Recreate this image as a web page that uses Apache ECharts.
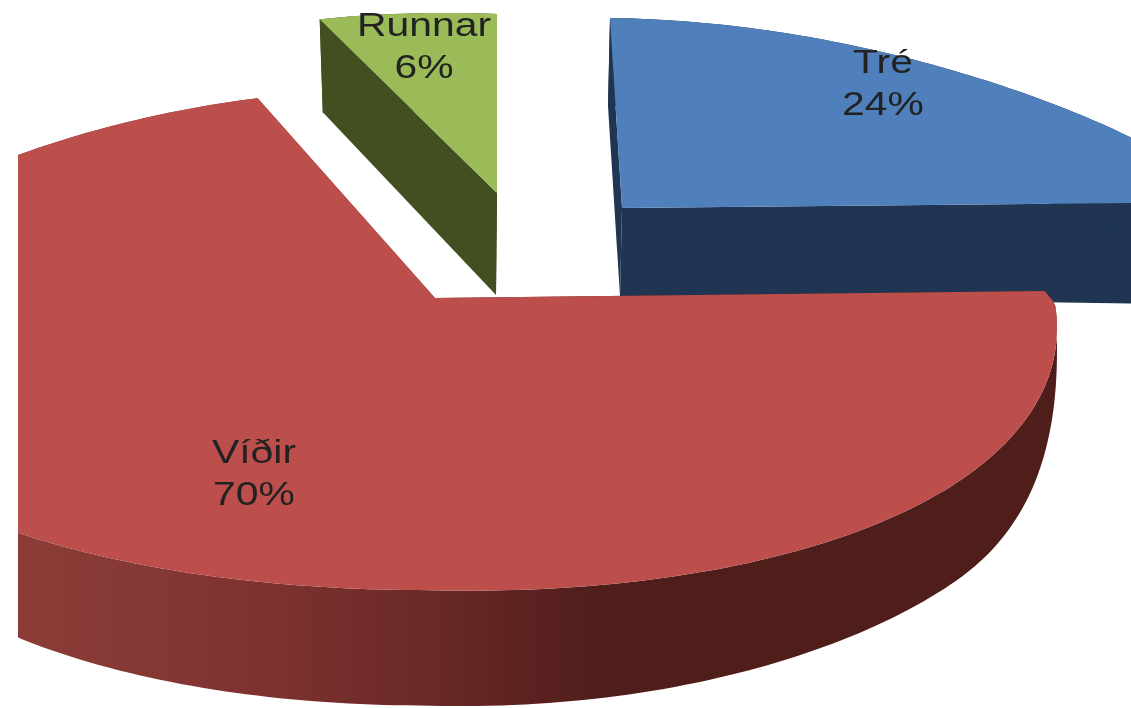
<!DOCTYPE html>
<html>
<head>
<meta charset="utf-8">
<style>
  html, body { margin: 0; padding: 0; background: #fff; }
  #chart { width: 1131px; height: 708px; }
</style>
<script src="https://cdn.jsdelivr.net/npm/echarts@6/dist/echarts.min.js"></script>
</head>
<body>
<div id="chart"></div>
<script>
// gildi lesin af myndinni
var categories = ['Tré', 'Víðir', 'Runnar'];
var shares = [24, 70, 6];

// layout of each exploded slice (same order as categories)
var tips = [[622, 208], [435, 298], [497, 193]];
var backRy = [190, 207, 179];
var backShear = [-12, 0, 0];
var sideDepth = [[88, 15], [95, 0], [102, 24]];
var sideKx = [1, 0.96, 0.977];
var sideKy = [1, 1.07, 1];
var sideDx = [-2, 0, -1];
var sideFade = [false, true, false];
var labelPos = [[883, 85], [254, 475], [424, 48]];
var clips = [[0, 0, 1131, 708], [18, 0, 1113, 708], [0, 8, 1131, 700]];
var topColors = ['#4f80bc', '#bc4f4b', '#9bbb59'];
var sideColors = ['#1f3552', null, '#414f21'];

var RX = 620, FRONT_RY = 292;

// theta in degrees, clockwise from 12 o'clock
function rim(i, theta, lower) {
  var s = Math.sin(theta * Math.PI / 180), n = Math.cos(theta * Math.PI / 180);
  var dx, dy;
  if (n > 0) {
    dx = RX * s * (1 - 0.24 * n) + backShear[i] * n;
    dy = -backRy[i] * n + (s > 0 ? 6 : 20) * s;
  } else {
    dx = RX * s * (1 - (s > 0 ? 0.10 : 0.13) * n) + 12 * n;
    dy = -FRONT_RY * n;
    if (s > 0) dy += 6 * s - 14 * s * n;
  }
  if (!lower) return [tips[i][0] + dx, tips[i][1] + dy];
  var kx = sideKx[i];
  var ky = n < 0 ? sideKy[i] : 1;
  var depth = sideDepth[i][0] + sideDepth[i][1] * s;
  // the wall gets thin towards the far right of Víðir
  if (sideFade[i] && n < 0 && s > 0) {
    var t = Math.min(1, -n / 0.6);
    kx = 1;
    ky = 1 + (sideKy[i] - 1) * n * n * -n;
    depth *= t * (2 - t);
  }
  return [
    tips[i][0] + sideDx[i] + dx * kx,
    tips[i][1] + dy * ky + depth
  ];
}

function lowerTip(i) {
  return [tips[i][0] + sideDx[i], tips[i][1] + sideDepth[i][0]];
}

function arc(i, a0, a1, lower) {
  var pts = [];
  for (var a = a0; a < a1; a += 1) pts.push(rim(i, a, lower));
  pts.push(rim(i, a1, lower));
  return pts;
}

var startAngles = [];
var total = 0;
shares.forEach(function (v) { startAngles.push(total); total += v * 3.6; });

function renderSlice(params, api) {
  var i = api.value(0);
  var a0 = startAngles[i];
  var a1 = a0 + api.value(1) * 3.6;
  var side = sideColors[i] || new echarts.graphic.LinearGradient(18, 0, 640, 0, [
    { offset: 0, color: '#8c3d38' },
    { offset: 0.37, color: '#7f3330' },
    { offset: 0.69, color: '#682826' },
    { offset: 0.78, color: '#5f2422' },
    { offset: 0.94, color: '#4f1e1b' },
    { offset: 1, color: '#4f1e1b' }
  ], true);
  var top = [tips[i]].concat(arc(i, a0, a1, false));
  var outer = arc(i, a0, a1, false).concat(arc(i, a0, a1, true).reverse());
  var startFace = [tips[i], rim(i, a0, false), rim(i, a0, true), lowerTip(i)];
  var endFace = [tips[i], rim(i, a1, false), rim(i, a1, true), lowerTip(i)];
  var c = clips[i];
  return {
    type: 'group',
    clipPath: { type: 'rect', shape: { x: c[0], y: c[1], width: c[2], height: c[3] } },
    children: [
      { type: 'polygon', shape: { points: startFace }, style: { fill: side } },
      { type: 'polygon', shape: { points: endFace }, style: { fill: side } },
      { type: 'polygon', shape: { points: outer }, style: { fill: side } },
      { type: 'polygon', shape: { points: top }, style: { fill: topColors[i] } },
      {
        type: 'text',
        x: labelPos[i][0],
        y: labelPos[i][1],
        scaleX: 1.22, // the reference image is stretched sideways
        style: {
          text: categories[i] + '\n' + api.value(1) + '%',
          fill: '#222',
          font: '33.5px "Liberation Sans", Arial, sans-serif',
          lineHeight: 42,
          align: 'center',
          verticalAlign: 'middle'
        }
      }
    ]
  };
}

var myChart = echarts.init(document.getElementById('chart'));
var sliceData = shares.map(function (v, i) { return [i, v]; });
// Víðir has to lie over the other two
var drawOrder = [2, 0, 1];
var option = {
  backgroundColor: '#fff',
  animation: false,
  series: [{
    type: 'custom',
    coordinateSystem: 'none',
    renderItem: renderSlice,
    data: drawOrder.map(function (i) { return sliceData[i]; })
  }]
};
myChart.setOption(option);
</script>
</body>
</html>
